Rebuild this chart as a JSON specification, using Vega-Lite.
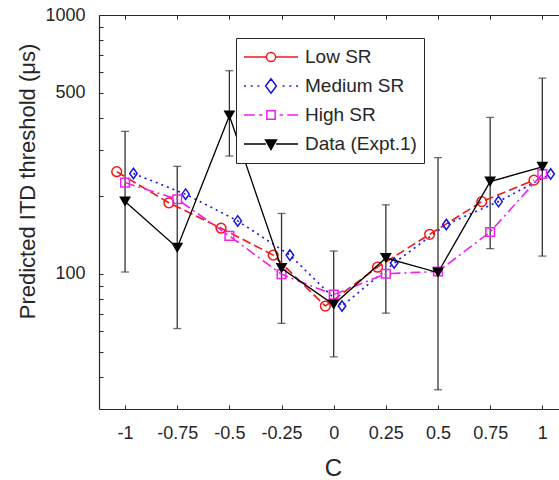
{
  "$schema": "https://vega.github.io/schema/vega-lite/v6.json",
  "width": 460,
  "height": 394,
  "autosize": "none",
  "padding": {"left": 99, "top": 15, "right": 0, "bottom": 71},
  "background": "white",
  "config": {
    "view": {"stroke": null},
    "font": "Liberation Sans",
    "axis": {
      "grid": false,
      "labelFont": "Liberation Sans",
      "titleFont": "Liberation Sans",
      "labelColor": "#262626",
      "titleColor": "#262626",
      "domainColor": "#262626",
      "tickColor": "#262626",
      "titleFontWeight": "normal",
      "labelFlush": false,
      "labelOverlap": false
    }
  },
  "datasets": {
    "model": [
      {"series": "Low SR", "c": -1.04, "itd": 248},
      {"series": "Low SR", "c": -0.79, "itd": 188},
      {"series": "Low SR", "c": -0.54, "itd": 150},
      {"series": "Low SR", "c": -0.29, "itd": 118},
      {"series": "Low SR", "c": -0.04, "itd": 75},
      {"series": "Low SR", "c": 0.21, "itd": 106},
      {"series": "Low SR", "c": 0.46, "itd": 142},
      {"series": "Low SR", "c": 0.71, "itd": 190},
      {"series": "Low SR", "c": 0.96, "itd": 230},
      {"series": "Medium SR", "c": -0.96, "itd": 244},
      {"series": "Medium SR", "c": -0.71, "itd": 203},
      {"series": "Medium SR", "c": -0.46, "itd": 160},
      {"series": "Medium SR", "c": -0.21, "itd": 118},
      {"series": "Medium SR", "c": 0.04, "itd": 75},
      {"series": "Medium SR", "c": 0.29, "itd": 110},
      {"series": "Medium SR", "c": 0.54, "itd": 155},
      {"series": "Medium SR", "c": 0.79, "itd": 190},
      {"series": "Medium SR", "c": 1.04, "itd": 243},
      {"series": "High SR", "c": -1, "itd": 225},
      {"series": "High SR", "c": -0.75, "itd": 194},
      {"series": "High SR", "c": -0.5, "itd": 140},
      {"series": "High SR", "c": -0.25, "itd": 99.5},
      {"series": "High SR", "c": 0, "itd": 83},
      {"series": "High SR", "c": 0.25, "itd": 100},
      {"series": "High SR", "c": 0.5, "itd": 102},
      {"series": "High SR", "c": 0.75, "itd": 145},
      {"series": "High SR", "c": 1, "itd": 243}
    ],
    "expt": [
      {"series": "Data (Expt.1)", "c": -1, "itd": 190, "lo": 101.5, "hi": 355},
      {"series": "Data (Expt.1)", "c": -0.75, "itd": 126, "lo": 61.4, "hi": 260},
      {"series": "Data (Expt.1)", "c": -0.5, "itd": 408, "lo": 285, "hi": 609},
      {"series": "Data (Expt.1)", "c": -0.25, "itd": 105, "lo": 64.3, "hi": 171},
      {"series": "Data (Expt.1)", "c": 0, "itd": 76, "lo": 47.7, "hi": 122.4},
      {"series": "Data (Expt.1)", "c": 0.25, "itd": 115, "lo": 70.4, "hi": 184.6},
      {"series": "Data (Expt.1)", "c": 0.5, "itd": 101, "lo": 35.6, "hi": 281},
      {"series": "Data (Expt.1)", "c": 0.75, "itd": 227, "lo": 125, "hi": 402},
      {"series": "Data (Expt.1)", "c": 1, "itd": 259, "lo": 117, "hi": 570}
    ]
  },
  "resolve": {"axis": {"x": "independent"}},
  "layer": [
    {
      "data": {"name": "expt"},
      "mark": {"type": "rule", "color": "#333333", "strokeWidth": 1.3},
      "encoding": {
        "x": {
          "field": "c", "type": "quantitative",
          "scale": {"domain": [-1.125, 1.08], "nice": false, "zero": false},
          "axis": {"orient": "top", "labels": false, "title": null, "values": [-1, -0.75, -0.5, -0.25, 0, 0.25, 0.5, 0.75, 1], "tickSize": -4, "domainWidth": 1.2}
        },
        "y": {
          "field": "lo", "type": "quantitative",
          "scale": {"type": "log", "domain": [30, 1000], "nice": false},
          "axis": {
            "title": "Predicted ITD threshold (μs)",
            "values": [40, 50, 60, 70, 80, 90, 100, 200, 300, 400, 500, 600, 700, 800, 900, 1000],
            "labelExpr": "datum.value == 100 || datum.value == 500 || datum.value == 1000 ? '' + datum.value : ''",
            "labelFontSize": 18, "tickSize": -4, "labelPadding": 18,
            "titleFontSize": 22, "titleAngle": -90, "titleX": -72, "titleY": 166, "titleAlign": "center", "titleBaseline": "middle",
            "domainWidth": 1.2
          }
        },
        "y2": {"field": "hi"}
      }
    },
    {
      "data": {"name": "expt"},
      "mark": {"type": "tick", "orient": "horizontal", "color": "#333333", "size": 8, "thickness": 1.3},
      "encoding": {
        "x": {"field": "c", "type": "quantitative", "axis": null},
        "y": {"field": "lo", "type": "quantitative"}
      }
    },
    {
      "data": {"name": "expt"},
      "mark": {"type": "tick", "orient": "horizontal", "color": "#333333", "size": 8, "thickness": 1.3},
      "encoding": {
        "x": {"field": "c", "type": "quantitative", "axis": null},
        "y": {"field": "hi", "type": "quantitative"}
      }
    },
    {
      "data": {"name": "model"},
      "mark": {"type": "line", "strokeWidth": 1.6},
      "encoding": {
        "x": {
          "field": "c", "type": "quantitative",
          "axis": {
            "orient": "bottom", "title": "C", "values": [-1, -0.75, -0.5, -0.25, 0, 0.25, 0.5, 0.75, 1],
            "labelExpr": "'' + datum.value", "labelFontSize": 18, "tickSize": -4, "labelPadding": 19,
            "titleFontSize": 24, "titleX": 234, "titleY": 66, "titleBaseline": "alphabetic", "titleAlign": "center",
            "domainWidth": 1.2
          }
        },
        "y": {"field": "itd", "type": "quantitative"},
        "color": {
          "field": "series", "type": "nominal", "legend": null,
          "scale": {"domain": ["Low SR", "Medium SR", "High SR"], "range": ["#f01818", "#1515e0", "#f020f0"]}
        },
        "strokeDash": {
          "field": "series", "type": "nominal", "legend": null,
          "scale": {"domain": ["Low SR", "Medium SR", "High SR"], "range": [[9, 4], [2, 4], [10, 4, 2, 4]]}
        }
      }
    },
    {
      "data": {"name": "model"},
      "transform": [{"filter": "datum.series == 'Low SR'"}],
      "mark": {"type": "point", "shape": "circle", "size": 95, "filled": false, "strokeWidth": 1.5, "color": "#f01818", "opacity": 1},
      "encoding": {
        "x": {"field": "c", "type": "quantitative", "axis": null},
        "y": {"field": "itd", "type": "quantitative"}
      }
    },
    {
      "data": {"name": "model"},
      "transform": [{"filter": "datum.series == 'Medium SR'"}],
      "mark": {"type": "point", "shape": "M0,-1.25L0.9,0L0,1.25L-0.9,0Z", "size": 70, "filled": false, "strokeWidth": 1.5, "color": "#1515e0", "opacity": 1},
      "encoding": {
        "x": {"field": "c", "type": "quantitative", "axis": null},
        "y": {"field": "itd", "type": "quantitative"}
      }
    },
    {
      "data": {"name": "model"},
      "transform": [{"filter": "datum.series == 'High SR'"}],
      "mark": {"type": "point", "shape": "square", "size": 75, "filled": false, "strokeWidth": 1.5, "color": "#f020f0", "opacity": 1},
      "encoding": {
        "x": {"field": "c", "type": "quantitative", "axis": null},
        "y": {"field": "itd", "type": "quantitative"}
      }
    },
    {
      "data": {"name": "expt"},
      "mark": {"type": "line", "color": "black", "strokeWidth": 1.3},
      "encoding": {
        "x": {"field": "c", "type": "quantitative", "axis": null},
        "y": {"field": "itd", "type": "quantitative"}
      }
    },
    {
      "data": {"name": "expt"},
      "mark": {"type": "point", "shape": "triangle-down", "size": 140, "filled": true, "color": "black", "opacity": 1},
      "encoding": {
        "x": {"field": "c", "type": "quantitative", "axis": null},
        "y": {"field": "itd", "type": "quantitative"}
      }
    },
    {
      "data": {"name": "model"},
      "mark": {"type": "point", "opacity": 0, "filled": true},
      "encoding": {
        "x": {"field": "c", "type": "quantitative", "axis": null},
        "y": {"field": "itd", "type": "quantitative"},
        "stroke": {
          "field": "series", "type": "nominal",
          "scale": {"domain": ["Low SR", "Medium SR", "High SR", "Data (Expt.1)"], "range": ["#f01818", "#1515e0", "#f020f0", "black"]},
          "legend": {
            "orient": "none", "legendX": 137, "legendY": 23, "direction": "vertical", "title": null,
            "symbolSize": 2916, "symbolStrokeWidth": 1.5, "symbolOpacity": 1,
            "labelFontSize": 19, "labelFont": "Liberation Sans", "labelColor": "#262626", "labelOffset": 6, "labelLimit": 300,
            "clipHeight": 24, "rowPadding": 5, "padding": 7,
            "strokeColor": "#262626", "fillColor": "white"
          }
        },
        "fill": {
          "field": "series", "type": "nominal",
          "scale": {"domain": ["Low SR", "Medium SR", "High SR", "Data (Expt.1)"], "range": ["white", "white", "white", "black"]},
          "legend": {
            "orient": "none", "legendX": 137, "legendY": 23, "direction": "vertical", "title": null,
            "symbolSize": 2916, "symbolStrokeWidth": 1.5, "symbolOpacity": 1,
            "labelFontSize": 19, "labelFont": "Liberation Sans", "labelColor": "#262626", "labelOffset": 6, "labelLimit": 300,
            "clipHeight": 24, "rowPadding": 5, "padding": 7,
            "strokeColor": "#262626", "fillColor": "white"
          }
        },
        "shape": {
          "field": "series", "type": "nominal",
          "scale": {
            "domain": ["Low SR", "Medium SR", "High SR", "Data (Expt.1)"],
            "range": [
              "M-1,0H-0.17M0.17,0H1M-0.17,0A0.17,0.17 0 1,1 0.17,0A0.17,0.17 0 1,1 -0.17,0Z",
              "M-1,0H-0.93M-0.75,0H-0.68M-0.5,0H-0.43M0.43,0H0.5M0.68,0H0.75M0.93,0H1M0,-0.27L0.2,0L0,0.27L-0.2,0Z",
              "M-1,0H-0.6M-0.45,0H-0.32M0.32,0H0.45M0.6,0H1M-0.155,-0.155H0.155V0.155H-0.155Z",
              "M-1,0H-0.19M0.19,0H1M-0.2,-0.15H0.2L0,0.2Z"
            ]
          },
          "legend": {
            "orient": "none", "legendX": 137, "legendY": 23, "direction": "vertical", "title": null,
            "symbolSize": 2916, "symbolStrokeWidth": 1.5, "symbolOpacity": 1,
            "labelFontSize": 19, "labelFont": "Liberation Sans", "labelColor": "#262626", "labelOffset": 6, "labelLimit": 300,
            "clipHeight": 24, "rowPadding": 5, "padding": 7,
            "strokeColor": "#262626", "fillColor": "white"
          }
        }
      }
    }
  ]
}
